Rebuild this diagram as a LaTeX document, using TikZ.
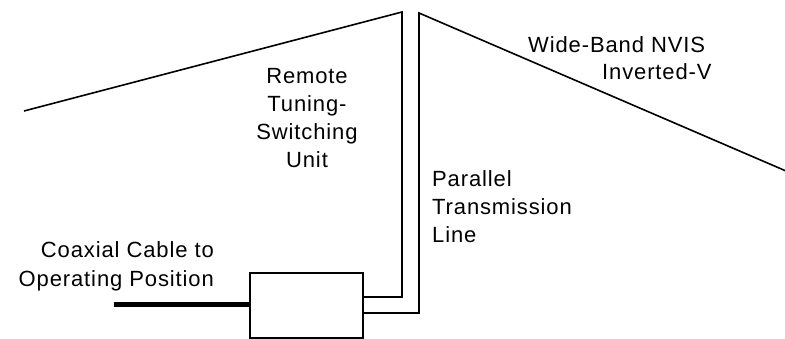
\documentclass[tikz,border=0pt]{standalone}
\usepackage{fontspec}
\setmainfont{Liberation Sans}[LetterSpace=4]
\begin{document}
\begin{tikzpicture}[x=1pt,y=-1pt,
  wire/.style={line width=1.6pt, line join=miter},
  lbl/.style={font=\fontsize{22}{28}\selectfont, inner sep=0pt, anchor=base west},
  lblr/.style={font=\fontsize{22}{28}\selectfont, inner sep=0pt, anchor=base east},
  lblc/.style={font=\fontsize{22}{28}\selectfont, inner sep=0pt, anchor=base, align=center}]
\useasboundingbox (0,0) rectangle (785,339);
% box
\node[draw, line width=1.6pt, minimum width=113pt, minimum height=65pt, inner sep=0pt, anchor=north west] (box) at (249,272) {};
% antenna legs
\coordinate (lend) at (24,111);
\coordinate (lapex) at (402,12);
\coordinate (rapex) at (419,13);
\coordinate (rend) at (786,171);
\coordinate (lin) at (box.east |- 0,297);
\coordinate (rin) at (box.east |- 0,313);
\draw[wire] (lend) -- (lapex) -- (lapex |- lin) -- (lin);
\draw[wire] (rend) -- (rapex) -- (rapex |- rin) -- (rin);
% coax
\coordinate (cend) at (114,305);
\draw[line width=5pt] (cend) -- (cend -| box.west);
% labels
\node[lblr] (c1) at (214,258) {Coaxial Cable to};
\node[lblr] (c2) at (214,287) {Operating Position};
\node[lblc] (rt) at (307,168) {Remote\\Tuning-\\Switching\\Unit};
\node[lbl] (p1) at (432,187) {Parallel};
\node[lbl] (p2) at (432,215) {Transmission};
\node[lbl] (p3) at (432,243) {Line};
\node[lbl] (w1) at (528,53) {Wide-Band NVIS};
\node[lbl] (w2) at (602,80) {Inverted-V};
\end{tikzpicture}
\end{document}
